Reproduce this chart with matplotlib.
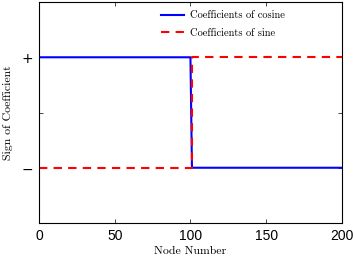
import matplotlib
matplotlib.use("Agg")
import matplotlib.pyplot as plt

# ============ data ============
node = [0, 100, 101, 200]
cos_sign = [1, 1, -1, -1]
sin_node = [0, 101, 101, 200]
sin_sign = [-1, -1, 1, 1]
yticks = [-1, 0, 1]
ytick_labels = ['$-$', '', '$+$']
xticks = [0, 50, 100, 150, 200]

serif = 'cmr10'

fig = plt.figure(figsize=(3.53, 2.56), dpi=100)
ax = fig.add_axes([0.1105, 0.129, 0.858, 0.863])

ax.plot(node, cos_sign, color=(0, 0, 1), lw=1.5, label='Coefficients of cosine')
ax.plot(sin_node, sin_sign, color=(1, 0, 0), lw=1.5, ls=(0, (4, 3)),
        label='Coefficients of sine')

ax.set_xlim(0, 200)
ax.set_ylim(-2, 2)
ax.set_xticks(xticks)
ax.set_yticks(yticks)
ax.set_yticklabels(ytick_labels, fontsize=10)
ax.tick_params(direction='in', top=True, right=True, length=3, width=0.5,
               labelsize=10, pad=4)
for lab in ax.get_xticklabels():
    lab.set_family('Liberation Sans')

ax.set_xlabel('Node Number', family=serif, fontsize=8.5, labelpad=3)
ax.set_ylabel('Sign of Coefficient', family=serif, fontsize=8.5, labelpad=6)
for s in ax.spines.values():
    s.set_linewidth(0.8)

leg = ax.legend(loc='upper left', bbox_to_anchor=(0.39, 0.977), frameon=False,
                prop={'family': serif, 'size': 7.5}, handlelength=2.2,
                handletextpad=0.6, borderaxespad=0.0, borderpad=0.35,
                labelspacing=0.75)

fig.savefig('out.png', dpi=100)
